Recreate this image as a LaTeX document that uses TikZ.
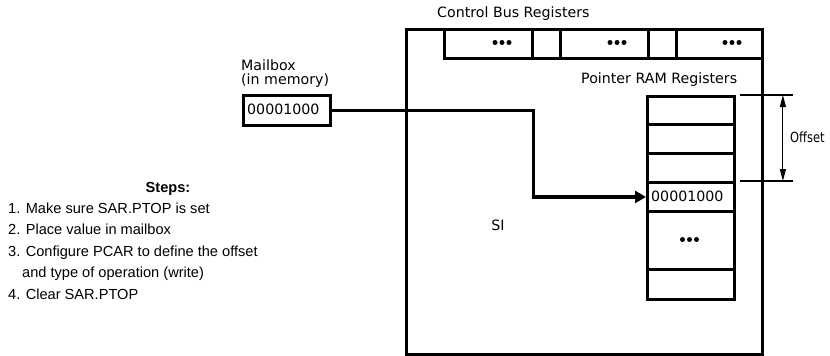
\documentclass[tikz,border=0pt]{standalone}
\usepackage{fontspec}
\setmainfont{Liberation Sans}
\newfontfamily\lblfont{DejaVu Sans}
\newfontfamily\narrowlbl[FakeStretch=0.82]{DejaVu Sans}
\usetikzlibrary{arrows.meta,calc}
\begin{document}
\begin{tikzpicture}[x=1pt,y=-1pt,
  heavy/.style={draw, line width=3.3pt},
  cell/.style={draw, line width=2.9pt, inner sep=0pt, anchor=north west},
  lbl/.style={font=\lblfont\fontsize{14.2}{16}\selectfont, inner sep=0pt, anchor=west},
  steptext/.style={font=\fontsize{14.6}{17}\selectfont, inner sep=0pt, anchor=base west},
  thin/.style={draw, line width=1.1pt},
  dots/.pic={\fill (-7,0) circle (2.5) (0,0) circle (2.5) (7,0) circle (2.5);}
]
\useasboundingbox (0,0) rectangle (830,356);

% big SI box
\node[heavy, inner sep=0pt, minimum width=356pt, minimum height=325pt, anchor=north west] (si) at (405,28) {};
\node[font=\lblfont\fontsize{14.2}{16}\selectfont, inner sep=0pt] (silbl) at (498,225) {SI};

% control bus registers
\node[lbl] (cbl) at (437,14) {Control Bus Registers};
\node[cell, line width=3.3pt, minimum width=88pt, minimum height=29pt] (c1) at (443,28) {};
\node[cell, line width=3.3pt, minimum width=28pt, minimum height=29pt] (c2) at (531,28) {};
\node[cell, line width=3.3pt, minimum width=88pt, minimum height=29pt] (c3) at (559,28) {};
\node[cell, line width=3.3pt, minimum width=28pt, minimum height=29pt] (c4) at (647,28) {};
\node[cell, line width=3.3pt, minimum width=86pt, minimum height=29pt] (c5) at (675,28) {};
\pic at (502,42.5) {dots};
\pic at (617,42.5) {dots};
\pic at (732,42.5) {dots};

% pointer RAM registers
\node[lbl] (prl) at (581,80) {Pointer RAM Registers};
\node[cell, minimum width=87pt, minimum height=28pt] (r1) at (646,95) {};
\node[cell, minimum width=87pt, minimum height=29pt] (r2) at (646,123) {};
\node[cell, minimum width=87pt, minimum height=29pt] (r3) at (646,152) {};
\node[cell, minimum width=87pt, minimum height=29pt] (r4) at (646,181) {};
\node[lbl] (r4t) at (651,196) {00001000};
\node[cell, minimum width=87pt, minimum height=58pt] (r5) at (646,210) {};
\pic at (689.5,239.5) {dots};
\node[cell, minimum width=87pt, minimum height=30pt] (r6) at (646,268) {};

% offset dimension
\coordinate (o1a) at ($(r1.north east)+(4,0)$);
\coordinate (o1b) at ($(r1.north east)+(57,0)$);
\coordinate (o2a) at ($(r4.north east)+(4,0)$);
\coordinate (o2b) at ($(r4.north east)+(57,0)$);
\draw[thin] (o1a) -- (o1b);
\draw[thin] (o2a) -- (o2b);
\coordinate (oa) at ($(r1.north east)+(47,0)$);
\coordinate (ob) at ($(r4.north east)+(47,0)$);
\draw[thin, {Triangle[length=12pt,width=6pt]}-{Triangle[length=12pt,width=6pt]}] (oa) -- (ob);
\node[lbl, font=\narrowlbl\fontsize{14}{16}\selectfont] (off) at (790,137.5) {Offset};

% mailbox
\node[lbl] (mbl1) at (241,65) {Mailbox};
\node[lbl] (mbl2) at (241,81) {(in memory)};
\node[cell, minimum width=87pt, minimum height=30pt] (mb) at (242,94) {};
\node[lbl] (mbt) at (247,109) {00001000};

% connector
\draw[line width=3.1pt, -{Triangle[length=11pt,width=12pt]}] (mb.east) -- ++(202,0) |- (r4.west);

% steps
\node[font=\bfseries\fontsize{14.6}{17}\selectfont, inner sep=0pt, anchor=base] (st) at (168,192) {Steps:};
\node[steptext] (s1) at (8,213) {1. Make sure SAR.PTOP is set};
\node[steptext] (s2) at (8,234) {2. Place value in mailbox};
\node[steptext] (s3) at (8,256) {3. Configure PCAR to define the offset};
\node[steptext] (s3b) at (22,277) {and type of operation (write)};
\node[steptext] (s4) at (8,299) {4. Clear SAR.PTOP};
\end{tikzpicture}
\end{document}
